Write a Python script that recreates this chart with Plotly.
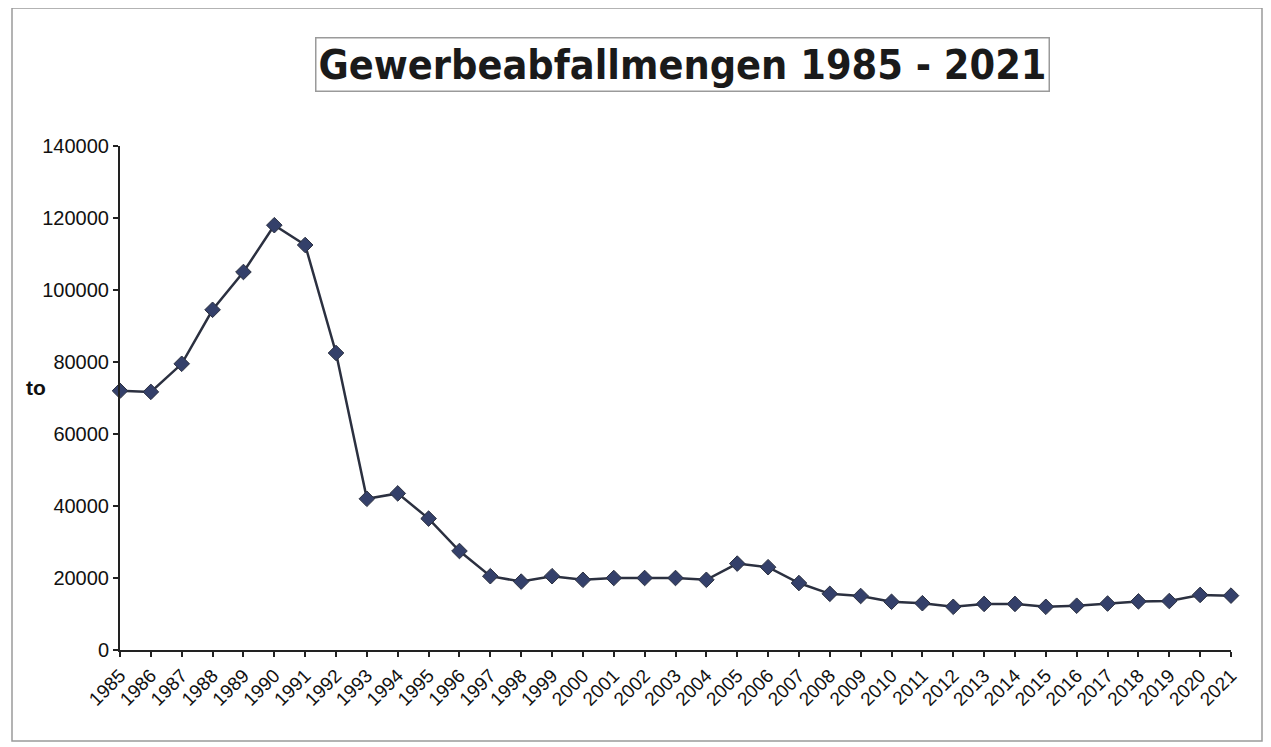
import plotly.graph_objects as go

years = [str(y) for y in range(1985, 2022)]
mengen = [72000, 71700, 79500, 94500, 105000, 118000, 112500, 82500, 42000, 43500,
          36500, 27500, 20500, 19000, 20500, 19500, 20000, 20000, 20000, 19500,
          24000, 23000, 18600, 15600, 15000, 13400, 13000, 12000, 12800, 12800,
          12000, 12300, 12900, 13500, 13600, 15300, 15100]
title_text = "Gewerbeabfallmengen 1985 - 2021"
y_unit = "to"

OFF = 8  # default page body margin
W, H = 1271 - OFF, 747 - OFF
L, T = 120 - OFF, 146 - OFF
R = 1271 - 1231
B = 747 - 650
pw, ph = W - L - R, H - T - B

def px_x(p):
    return (p - OFF - L) / pw

def px_y(p):
    return (H - B - (p - OFF)) / ph

fig = go.Figure()
fig.add_trace(go.Scatter(
    x=years, y=mengen, mode="lines+markers",
    line=dict(color="#2b3040", width=2.5),
    marker=dict(symbol="diamond", size=12, color="#34406a",
                line=dict(color="#2b3040", width=1)),
    cliponaxis=False, showlegend=False,
))

fig.update_layout(
    width=W, height=H,
    margin=dict(l=L, r=R, t=T, b=B),
    paper_bgcolor="white", plot_bgcolor="white",
    font=dict(family="Liberation Sans, Arial, sans-serif", color="#111111"),
    xaxis=dict(
        type="category", range=[0, len(years) - 1],
        showline=True, linecolor="#222222", linewidth=2,
        ticks="outside", ticklen=5, tickcolor="#222222", tickwidth=1.5,
        tickangle=-45, tickfont=dict(size=19, color="#111111"),
        showgrid=False, zeroline=False,
    ),
    yaxis=dict(
        range=[0, 140000], dtick=20000, tickformat="d",
        showline=True, linecolor="#222222", linewidth=2,
        ticks="outside", ticklen=5, tickcolor="#222222", tickwidth=1.5,
        tickfont=dict(size=20, color="#111111"),
        showgrid=False, zeroline=False,
    ),
    annotations=[
        dict(text="<b>" + title_text + "</b>", xref="paper", yref="paper",
             x=px_x(682), y=px_y(65), xanchor="center", yanchor="middle",
             showarrow=False, width=728, height=48,
             font=dict(family="Liberation Sans Narrow, DejaVu Sans Condensed, Liberation Sans, Arial", size=41, color="#1a1a1a"),
             bordercolor="#9a9a9a", borderwidth=1.5, borderpad=2, bgcolor="white"),
        dict(text="<b>" + y_unit + "</b>", xref="paper", yref="paper",
             x=px_x(36), y=px_y(387), xanchor="center", yanchor="middle",
             showarrow=False, font=dict(size=21, color="#111111")),
    ],
    shapes=[
        dict(type="rect", xref="paper", yref="paper",
             x0=px_x(12), x1=px_x(1262), y0=px_y(741), y1=px_y(8),
             line=dict(color="#9a9a9a", width=1.5), layer="below"),
    ],
)

fig.write_html("out.html")
